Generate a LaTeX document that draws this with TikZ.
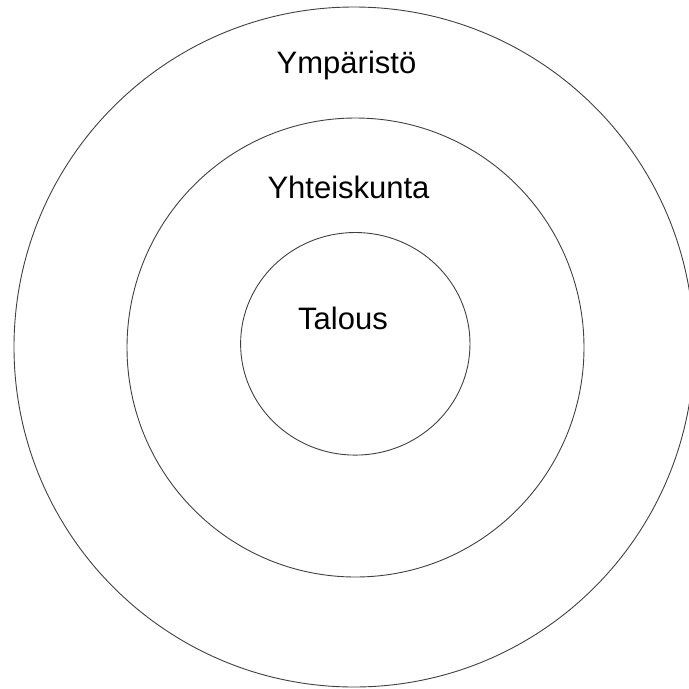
\documentclass[tikz,border=0pt]{standalone}
\usepackage{fontspec}
\setmainfont{Liberation Sans}
\begin{document}
\begin{tikzpicture}[x=1pt,y=-1pt,
  ring/.style={draw=black!75,line width=0.9pt},
  lbl/.style={anchor=base,inner sep=0pt,font=\fontsize{31}{31}\selectfont}]
\useasboundingbox (0,0) rectangle (689,689);
\draw[ring] (354,347) ellipse [x radius=340,y radius=340];
\draw[ring] (355.5,347.5) ellipse [x radius=228.5,y radius=229.5];
\draw[ring] (355.3,343.8) ellipse [x radius=114.7,y radius=111.3];
\node[lbl] (env) at (346.5,73) {Ympäristö};
\node[lbl] (soc) at (348.5,198) {Yhteiskunta};
\node[lbl] (eco) at (343,329) {Talous};
\end{tikzpicture}
\end{document}
